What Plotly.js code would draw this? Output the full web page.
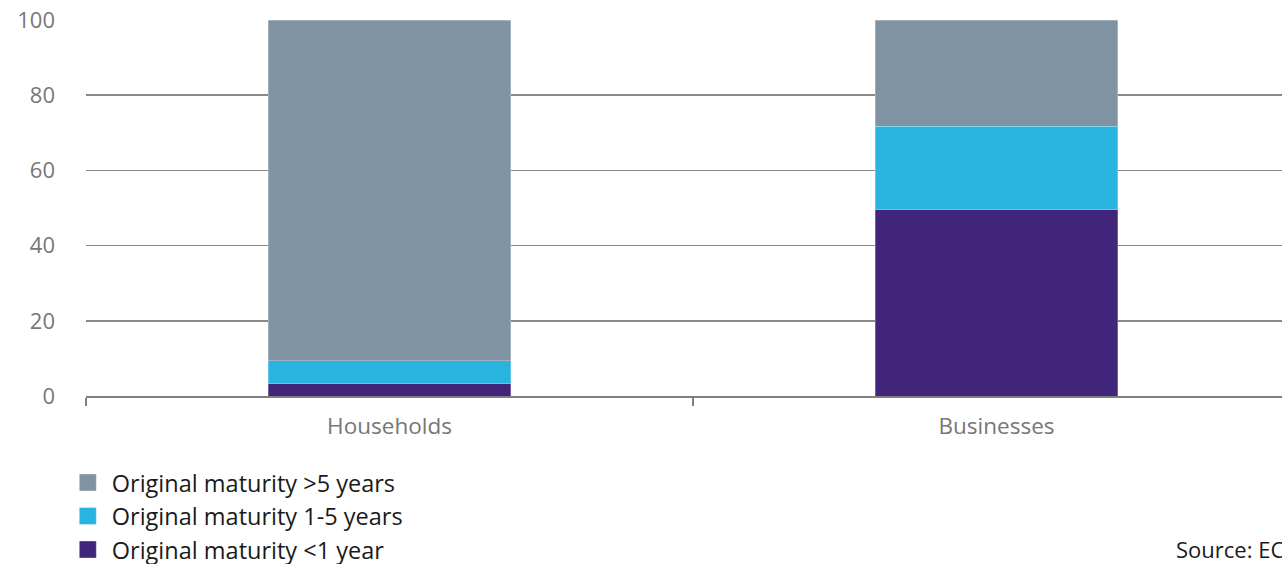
<!DOCTYPE html>
<html>
<head>
<meta charset="utf-8">
<script src="https://cdn.plot.ly/plotly-3.0.1.min.js"></script>
<style>
html, body { margin: 0; padding: 0; overflow: hidden; background: #fff; }
#chart { width: 1320px; height: 564px; }
</style>
</head>
<body>
<div id="chart"></div>
<script>
const categories = ["Households", "Businesses"];
const seriesNames = ["Original maturity <1 year", "Original maturity 1-5 years", "Original maturity >5 years"];
const lessThan1Year = [3.2, 49.6];
const oneToFiveYears = [6.2, 22.1];
const moreThan5Years = [90.6, 28.3];
const yTicks = [0, 20, 40, 60, 80, 100];
const sourceText = "Source: EC";

const colors = ["#40257a", "#29b3df", "#7f93a3"];
const values = [lessThan1Year, oneToFiveYears, moreThan5Years];

const fontFamily = "'Open Sans', 'Noto Sans', sans-serif";

const traces = values.map((v, i) => ({
  type: "bar",
  x: categories,
  y: v,
  name: seriesNames[i],
  marker: { color: colors[i], line: { color: "rgba(255,255,255,0.45)", width: 0.6 } },
  hoverinfo: "skip"
}));

const ML = 86, PW = 1214, MT = 20, PH = 376, W = 1320, H = 564;

const layout = {
  width: W,
  height: H,
  barmode: "stack",
  bargap: 0.6,
  margin: { l: ML, r: W - ML - PW, t: MT, b: H - MT - PH, autoexpand: false },
  paper_bgcolor: "#ffffff",
  plot_bgcolor: "#ffffff",
  font: { family: fontFamily, color: "#777777", size: 22 },
  showlegend: true,
  legend: {
    orientation: "v",
    x: -0.0117,
    xanchor: "left",
    y: -0.172,
    yanchor: "top",
    font: { family: fontFamily, size: 23.5, color: "#1a1a1a" },
    tracegroupgap: 0,
    bgcolor: "rgba(0,0,0,0)"
  },
  xaxis: {
    type: "category",
    automargin: false,
    showline: true,
    linecolor: "#808080",
    linewidth: 2,
    ticks: "outside",
    tickson: "boundaries",
    ticklen: 8,
    tickwidth: 1.5,
    tickcolor: "#808080",
    showgrid: false,
    ticklabelstandoff: 9,
    tickfont: { family: fontFamily, size: 22.5, color: "#777777" },
    fixedrange: true
  },
  yaxis: {
    automargin: false,
    range: [0, 100],
    tickvals: yTicks,
    ticktext: yTicks.map(String),
    showgrid: true,
    gridcolor: "#8a8a8a",
    gridwidth: 1.5,
    zeroline: false,
    showline: false,
    ticks: "",
    ticklabelstandoff: 30,
    tickfont: { family: fontFamily, size: 22, color: "#777777" },
    fixedrange: true
  },
  annotations: [{
    text: sourceText,
    xref: "paper",
    yref: "paper",
    x: (1174 - ML) / PW,
    xanchor: "left",
    y: -(549 - (MT + PH)) / PH,
    yanchor: "middle",
    showarrow: false,
    font: { family: fontFamily, size: 22, color: "#1a1a1a" }
  }]
};

Plotly.newPlot("chart", traces, layout, { displayModeBar: false, staticPlot: true }).then(gd => {
  gd.querySelectorAll(".legend .legendpoints path").forEach(p => {
    const t = p.getAttribute("transform") || "";
    p.setAttribute("transform", t + " translate(-4,0) scale(1.42)");
  });
});
</script>
</body>
</html>
